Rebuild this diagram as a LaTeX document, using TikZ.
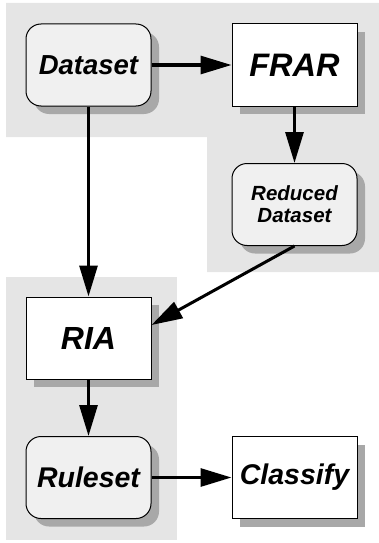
\documentclass[tikz,border=0pt]{standalone}
\usepackage{fontspec}
\setmainfont{Liberation Sans}
\usetikzlibrary{arrows.meta,calc,shadows}
\definecolor{bggray}{HTML}{E5E5E5}
\definecolor{boxfill}{HTML}{F0F0F0}
\definecolor{shadowgray}{HTML}{A8A8A8}
\tikzset{
  base/.style={minimum width=125pt, minimum height=82pt, inner sep=0pt,
    draw=black, line width=1pt, align=center,
    drop shadow={shadow xshift=8pt, shadow yshift=-8pt, opacity=1, fill=shadowgray, draw=none}},
  roundbox/.style={base, rounded corners=15pt, fill=boxfill},
  squarebox/.style={base, fill=white},
  fs/.style={font=\bfseries\itshape\fontsize{#1pt}{#1pt}\selectfont},
  conn/.style={line width=3pt, -{Triangle[length=31pt,width=18pt]}},
}
\begin{document}
\begin{tikzpicture}[x=1pt,y=-1pt]
\useasboundingbox (0,0) rectangle (379,543);
\fill[bggray] (6,3) -- (379,3) -- (379,272) -- (207,272) -- (207,137) -- (6,137) -- cycle;
\fill[bggray] (6,277) rectangle (177,540);

\node[roundbox, fs=27.5] (ds) at (88.5,65) {Dataset};
\node[squarebox, fs=32.5] (frar) at (294.5,65) {FRAR};
\node[roundbox, font=\bfseries\itshape\fontsize{20.5pt}{22pt}\selectfont] (red) at (294.5,204.5) {Reduced\\Dataset};
\node[squarebox, fs=32] (ria) at (88.5,338) {RIA};
\node[roundbox, fs=28.5] (rule) at (88.5,477.5) {Ruleset};
\node[squarebox, fs=28.5] (cls) at (294.5,477.5) {Classify};

\draw[conn] (ds) -- (frar);
\draw[conn] (ds) -- (ria);
\draw[conn] (frar) -- (red);
\draw[conn] (red.south) -- ($(ria.east)+(0,-13)$);
\draw[conn] (ria) -- (rule);
\draw[conn] (rule) -- (cls);
\end{tikzpicture}
\end{document}
